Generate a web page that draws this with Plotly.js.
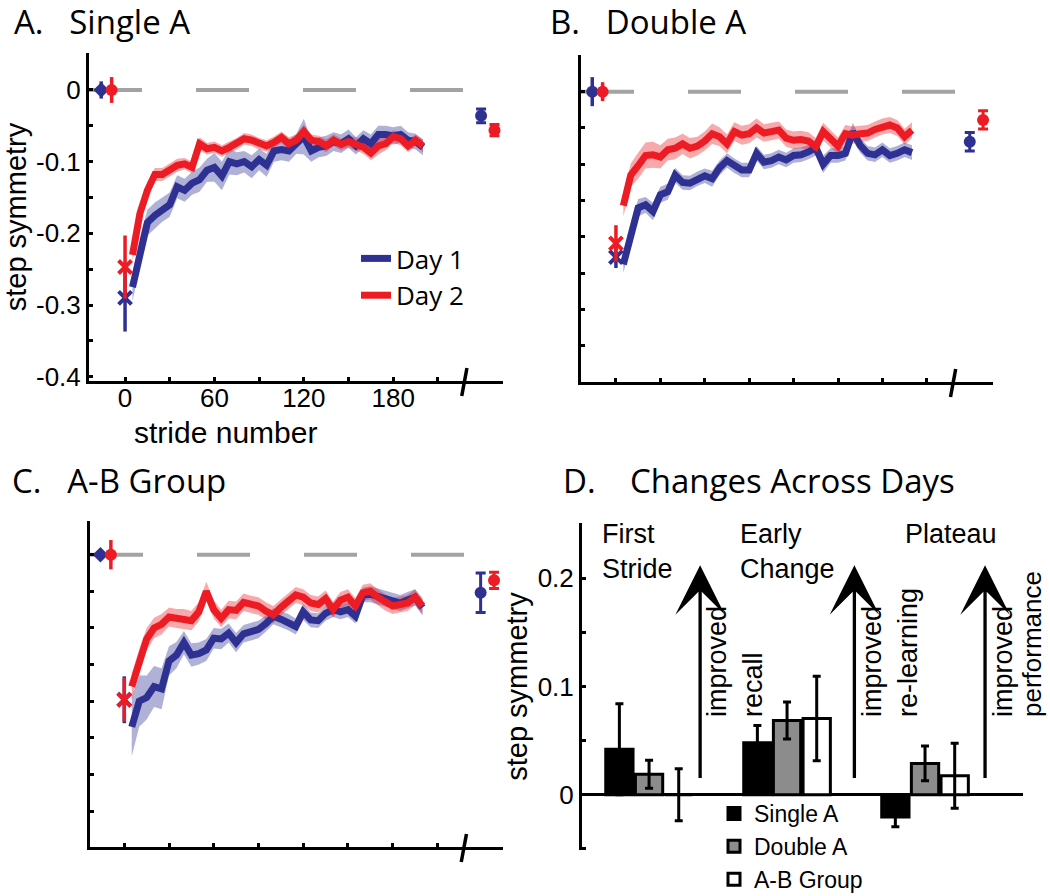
<!DOCTYPE html>
<html>
<head>
<meta charset="utf-8">
<script src="https://cdn.plot.ly/plotly-3.0.1.min.js"></script>
<style>
  body { margin: 0; background: #fff; }
  #grafico { width: 1050px; height: 896px; }
</style>
</head>
<body>
<div id="grafico"></div>
<script>
// Zancadas (bins de 5 zancadas)
const strides = [5,10,15,20,25,30,35,40,45,50,55,60,65,70,75,80,85,90,95,100,
  105,110,115,120,125,130,135,140,145,150,155,160,165,170,175,180,185,190,195,200];

// A. Single A
const singleDay1 = [-0.275,-0.225,-0.185,-0.175,-0.167,-0.16,-0.135,-0.14,-0.13,-0.125,
  -0.112,-0.108,-0.12,-0.1,-0.103,-0.1,-0.107,-0.097,-0.105,-0.085,
  -0.083,-0.085,-0.075,-0.065,-0.085,-0.08,-0.078,-0.072,-0.075,-0.068,
  -0.078,-0.068,-0.075,-0.062,-0.062,-0.064,-0.062,-0.07,-0.072,-0.08];
const singleDay1Se = [0.02,0.02,0.018,0.018,0.017,0.017,0.016,0.016,0.016,0.017,
  0.016,0.02,0.02,0.018,0.016,0.015,0.016,0.015,0.016,0.015,
  0.015,0.015,0.014,0.025,0.015,0.014,0.014,0.013,0.013,0.013,
  0.012,0.012,0.013,0.012,0.012,0.012,0.012,0.011,0.011,0.011];
const singleDay2 = [-0.23,-0.172,-0.14,-0.118,-0.118,-0.112,-0.105,-0.103,-0.108,-0.075,
  -0.082,-0.08,-0.085,-0.08,-0.075,-0.068,-0.07,-0.075,-0.078,-0.073,
  -0.066,-0.075,-0.07,-0.058,-0.07,-0.072,-0.078,-0.07,-0.076,-0.072,
  -0.075,-0.08,-0.088,-0.078,-0.075,-0.065,-0.068,-0.078,-0.07,-0.078];
const singleDay2Se = [0.01,0.01,0.01,0.009,0.009,0.009,0.009,0.008,0.008,0.009,
  0.008,0.008,0.008,0.008,0.008,0.008,0.008,0.008,0.008,0.008,
  0.008,0.009,0.008,0.01,0.008,0.008,0.009,0.008,0.008,0.008,
  0.009,0.009,0.01,0.012,0.009,0.009,0.009,0.009,0.008,0.009];

// B. Double A
const doubleDay1 = [-0.238,-0.198,-0.16,-0.156,-0.165,-0.142,-0.138,-0.115,-0.125,-0.126,
  -0.12,-0.116,-0.12,-0.105,-0.095,-0.102,-0.108,-0.108,-0.085,-0.097,
  -0.095,-0.09,-0.094,-0.088,-0.087,-0.083,-0.077,-0.1,-0.088,-0.088,
  -0.085,-0.055,-0.074,-0.085,-0.087,-0.08,-0.088,-0.085,-0.08,-0.084];
const doubleDay1Se = [0.012,0.012,0.012,0.011,0.012,0.011,0.011,0.01,0.01,0.01,
  0.01,0.01,0.011,0.01,0.01,0.01,0.01,0.01,0.01,0.01,
  0.01,0.01,0.01,0.01,0.01,0.01,0.011,0.012,0.01,0.01,
  0.01,0.012,0.01,0.01,0.01,0.01,0.01,0.01,0.01,0.01];
const doubleDay2 = [-0.157,-0.115,-0.102,-0.088,-0.087,-0.09,-0.08,-0.078,-0.072,-0.078,
  -0.075,-0.068,-0.058,-0.062,-0.072,-0.055,-0.06,-0.058,-0.05,-0.057,
  -0.055,-0.053,-0.064,-0.067,-0.066,-0.068,-0.076,-0.055,-0.065,-0.075,
  -0.058,-0.06,-0.058,-0.057,-0.052,-0.048,-0.046,-0.05,-0.062,-0.053];
const doubleDay2Se = [0.015,0.016,0.018,0.018,0.018,0.016,0.015,0.015,0.014,0.014,
  0.013,0.013,0.014,0.013,0.013,0.013,0.013,0.013,0.013,0.012,
  0.012,0.012,0.012,0.012,0.012,0.012,0.012,0.012,0.012,0.012,
  0.012,0.012,0.011,0.011,0.011,0.011,0.011,0.011,0.011,0.011];

// C. A-B Group
const abDay1 = [-0.235,-0.2,-0.195,-0.18,-0.183,-0.145,-0.137,-0.12,-0.137,-0.135,
  -0.13,-0.114,-0.115,-0.107,-0.12,-0.108,-0.105,-0.102,-0.094,-0.084,
  -0.088,-0.092,-0.098,-0.078,-0.089,-0.09,-0.08,-0.075,-0.078,-0.075,
  -0.084,-0.055,-0.054,-0.057,-0.06,-0.062,-0.066,-0.062,-0.058,-0.072];
const abDay1Se = [0.04,0.035,0.03,0.028,0.028,0.02,0.018,0.016,0.016,0.015,
  0.015,0.014,0.014,0.013,0.013,0.012,0.012,0.012,0.011,0.011,
  0.011,0.011,0.011,0.011,0.01,0.01,0.01,0.01,0.01,0.01,
  0.01,0.01,0.011,0.011,0.011,0.011,0.011,0.011,0.011,0.011];
const abDay2 = [-0.18,-0.145,-0.115,-0.1,-0.095,-0.085,-0.087,-0.088,-0.09,-0.078,
  -0.05,-0.075,-0.087,-0.075,-0.076,-0.065,-0.068,-0.07,-0.077,-0.082,
  -0.072,-0.064,-0.055,-0.058,-0.066,-0.068,-0.06,-0.075,-0.062,-0.058,
  -0.07,-0.052,-0.05,-0.058,-0.065,-0.07,-0.068,-0.066,-0.058,-0.07];
const abDay2Se = [0.018,0.016,0.015,0.014,0.014,0.013,0.013,0.014,0.013,0.013,
  0.013,0.012,0.012,0.012,0.012,0.012,0.012,0.012,0.012,0.012,
  0.011,0.011,0.011,0.011,0.011,0.011,0.011,0.011,0.011,0.011,
  0.011,0.011,0.011,0.011,0.011,0.011,0.011,0.011,0.011,0.011];

// puntos sueltos [Day 1, Day 2]: baseline, primera zancada, post
const preStride = [-16, -9];
const firstStride = [0, 0];
const postStride = [239, 248];
const singlePre = [0, 0], singlePreErr = [0.012, 0.018];
const singleFirst = [-0.29, -0.247], singleFirstErr = [0.047, 0.044];
const singlePost = [-0.036, -0.056], singlePostErr = [0.0096, 0.008];
const doublePre = [0, 0], doublePreErr = [0.02, 0.013];
const doubleFirst = [-0.228, -0.209], doubleFirstErr = [0.015, 0.025];
const doublePost = [-0.069, -0.039], doublePostErr = [0.0126, 0.0126];
const abPre = [0, 0], abPreErr = [0.006, 0.02];
const abFirst = [-0.198, -0.198], abFirstErr = [0.032, 0.03];
const abPost = [-0.052, -0.035], abPostErr = [0.027, 0.011];

// D. Changes Across Days
const phases = ["First Stride", "Early Change", "Plateau"];
const changeSingle = [0.042, 0.048, -0.0206], changeSingleErr = [0.042, 0.016, 0.009];
const changeDouble = [0.019, 0.0686, 0.029], changeDoubleErr = [0.013, 0.017, 0.016];
const changeAB = [0.0, 0.0705, 0.0175], changeABErr = [0.024, 0.039, 0.030];

const W = 1050, H = 896;
const fx = (p) => p / W;
const fy = (p) => 1 - p / H;

const azul = "rgb(46,49,146)", rojo = "rgb(237,28,36)";
const bandaAzul = "rgba(46,49,146,0.38)", bandaRoja = "rgba(237,28,36,0.38)";
const helv = "Liberation Sans, Arial, sans-serif";
const myriad = "Open Sans, sans-serif";

const trazasPanel = (n, d1, s1, d2, s2, pre, preErr, first, firstErr, post, postErr, simboloPre) => {
  const xa = n === 1 ? "x" : "x" + n;
  const ya = n === 1 ? "y" : "y" + n;
  const trazas = [];
  // bandas de error estandar
  [[d1, s1, bandaAzul], [d2, s2, bandaRoja]].forEach(([m, se, col]) => {
    trazas.push({ x: strides, y: m.map((v, i) => v + se[i]), xaxis: xa, yaxis: ya,
      type: "scatter", mode: "lines", line: { width: 0, color: col }, showlegend: false, hoverinfo: "skip" });
    trazas.push({ x: strides, y: m.map((v, i) => v - se[i]), xaxis: xa, yaxis: ya,
      type: "scatter", mode: "lines", line: { width: 0, color: col }, fill: "tonexty",
      fillcolor: col, showlegend: false, hoverinfo: "skip" });
  });
  // lineas medias
  [[d1, azul, "Day 1"], [d2, rojo, "Day 2"]].forEach(([m, col, nombre]) => {
    trazas.push({ x: strides, y: m, xaxis: xa, yaxis: ya, type: "scatter", mode: "lines",
      name: nombre, line: { color: col, width: 7 }, showlegend: n === 1, legend: "legend" });
  });
  // puntos con barras de error
  [azul, rojo].forEach((col, k) => {
    trazas.push({ x: [preStride[k]], y: [pre[k]], xaxis: xa, yaxis: ya, type: "scatter", mode: "markers",
      marker: { symbol: k === 0 ? simboloPre : "circle", size: 12, color: col },
      error_y: { type: "data", array: [preErr[k]], thickness: 3.5, width: 0, color: col }, showlegend: false });
    trazas.push({ x: [firstStride[k]], y: [first[k]], xaxis: xa, yaxis: ya, type: "scatter", mode: "markers",
      marker: { symbol: "x-thin", size: 13, color: col, line: { width: 4, color: col } },
      error_y: { type: "data", array: [firstErr[k]], thickness: 3.5, width: 0, color: col }, showlegend: false });
    trazas.push({ x: [postStride[k]], y: [post[k]], xaxis: xa, yaxis: ya, type: "scatter", mode: "markers",
      marker: { symbol: "circle", size: 12, color: col },
      error_y: { type: "data", array: [postErr[k]], thickness: 3, width: 5, color: col }, showlegend: false });
  });
  return trazas;
};

let datos = [];
datos = datos.concat(trazasPanel(1, singleDay1, singleDay1Se, singleDay2, singleDay2Se,
  singlePre, singlePreErr, singleFirst, singleFirstErr, singlePost, singlePostErr, "diamond"));
datos = datos.concat(trazasPanel(2, doubleDay1, doubleDay1Se, doubleDay2, doubleDay2Se,
  doublePre, doublePreErr, doubleFirst, doubleFirstErr, doublePost, doublePostErr, "circle"));
datos = datos.concat(trazasPanel(3, abDay1, abDay1Se, abDay2, abDay2Se,
  abPre, abPreErr, abFirst, abFirstErr, abPost, abPostErr, "diamond"));

// barras del panel D
[[changeSingle, changeSingleErr, "black", "Single A"],
 [changeDouble, changeDoubleErr, "rgb(140,140,140)", "Double A"],
 [changeAB, changeABErr, "white", "A-B Group"]].forEach(([v, e, col, nombre]) => {
  datos.push({ x: phases, y: v, type: "bar", name: nombre, xaxis: "x4", yaxis: "y4",
    marker: { color: col, line: { color: "black", width: 3 } },
    error_y: { type: "data", array: e, color: "black", thickness: 3, width: 4 },
    legend: "legend2" });
});

const ejeX = (dom, rango, etiquetas) => ({
  domain: dom, range: rango, showline: true, linewidth: 3, linecolor: "black",
  ticks: "inside", ticklen: 4, tickwidth: 3, tickcolor: "black",
  tickvals: [0, 30, 60, 90, 120, 150, 180, 210],
  ticktext: ["0", "", "60", "", "120", "", "180", ""],
  showticklabels: etiquetas, tickfont: { family: helv, size: 26, color: "black" },
  showgrid: false, zeroline: false
});
const ejeY = (dom, rango, etiquetas) => ({
  domain: dom, range: rango, showline: true, linewidth: 3, linecolor: "black",
  ticks: "inside", ticklen: 4, tickwidth: 3, tickcolor: "black",
  tickvals: [-0.4, -0.35, -0.3, -0.25, -0.2, -0.15, -0.1, -0.05, 0],
  ticktext: ["-0.4", "", "-0.3", "", "-0.2", "", "-0.1", "", "0"],
  showticklabels: etiquetas, tickfont: { family: helv, size: 26, color: "black" },
  showgrid: false, zeroline: false
});

const xa1 = ejeX([fx(89), fx(503)], [-24.2, 253.7], true);
xa1.ticklabelstandoff = -8;
const ya1 = ejeY([fy(381), fy(53)], [-0.406, 0.0516], true);
ya1.title = { text: "step symmetry", font: { family: helv, size: 29, color: "black" }, standoff: 4 };
const xa2 = ejeX([fx(581), fx(993)], [-23.6, 254.7], false);
const ya2 = ejeY([fy(382), fy(55)], [-0.4, 0.0505], false);
const xa3 = ejeX([fx(90), fx(503)], [-23, 254], false);
const ya3 = ejeY([fy(847), fy(521)], [-0.399, 0.046], false);
xa2.anchor = "y2"; ya2.anchor = "x2";
xa3.anchor = "y3"; ya3.anchor = "x3";

// linea de cero discontinua y marcas de corte
const shapes = [];
[["x", "y", [-24.2, 262]], ["x2", "y2", [-23.6, 262]], ["x3", "y3", [-23, 262]]].forEach(([xr, yr, r]) => {
  shapes.push({ type: "line", xref: xr, yref: yr, x0: r[0], x1: r[1], y0: 0, y1: 0, layer: "below",
    line: { color: "rgb(163,163,163)", width: 4, dash: "53px,54px" } });
});
[["x", 381], ["x2", 382], ["x3", 847]].forEach(([xr, yb]) => {
  shapes.push({ type: "line", xref: xr, yref: "paper", x0: 226, x1: 229.5, y0: fy(yb + 15), y1: fy(yb - 13),
    line: { color: "black", width: 3.5 } });
});

const txt = (texto, x, y, opciones) => Object.assign({
  text: texto, xref: "paper", yref: "paper", x: fx(x), y: fy(y), showarrow: false,
  xanchor: "left", yanchor: "middle", font: { family: helv, size: 27, color: "black" }
}, opciones || {});

const titulo = { family: myriad, size: 33, color: "black" };
const vertical = { textangle: -90, xanchor: "center", yanchor: "middle" };
const annotations = [
  txt("A.\u00a0\u00a0\u00a0Single A", 12, 22, { font: titulo }),
  txt("B.\u00a0\u00a0\u00a0Double A", 548, 22, { font: titulo }),
  txt("C.\u00a0\u00a0\u00a0A-B Group", 10, 480, { font: titulo }),
  txt("D.\u00a0\u00a0\u00a0\u00a0Changes Across Days", 561, 480, { font: titulo }),
  txt("stride number", 225, 432, { xanchor: "center", font: { family: helv, size: 30, color: "black" } }),
  txt("First<br>Stride", 600, 517, { yanchor: "top", align: "left" }),
  txt("Early<br>Change", 738, 517, { yanchor: "top", align: "left" }),
  txt("Plateau", 903, 517, { yanchor: "top", align: "left" }),
  txt("improved", 717, 662, vertical),
  txt("recall", 753, 685, vertical),
  txt("improved", 872, 662, vertical),
  txt("re-learning", 908, 653, vertical),
  txt("improved", 1003, 662, vertical),
  txt("performance", 1049, 644, Object.assign({}, vertical, { xanchor: "right", font: { family: helv, size: 26, color: "black" } }))
];
// flechas verticales del panel D
[0.37, 1.488, 2.435].forEach((xf) => {
  annotations.push({ xref: "x4", yref: "y4", axref: "x4", ayref: "y4", x: xf, y: 0.212, ax: xf, ay: 0.014,
    text: "", showarrow: true, arrowhead: 3, arrowsize: 2.5, arrowwidth: 3.3, arrowcolor: "black" });
});

const diseño = {
  width: W, height: H, margin: { l: 0, r: 0, t: 0, b: 0, autoexpand: false },
  paper_bgcolor: "white", plot_bgcolor: "rgba(0,0,0,0)",
  showlegend: true, barmode: "group", bargap: 0.355, bargroupgap: 0.08,
  xaxis: xa1, yaxis: ya1, xaxis2: xa2, yaxis2: ya2, xaxis3: xa3, yaxis3: ya3,
  xaxis4: { domain: [fx(582), fx(1023)], range: [-0.486, 2.71], visible: false, anchor: "y4" },
  yaxis4: {
    domain: [fy(850), fy(523)], range: [-0.051, 0.251], anchor: "x4",
    showline: true, linewidth: 3, linecolor: "black",
    ticks: "inside", ticklen: 4, tickwidth: 3, tickcolor: "black",
    tickvals: [-0.05, 0, 0.05, 0.1, 0.15, 0.2], ticktext: ["", "0", "", "0.1", "", "0.2"],
    tickfont: { family: helv, size: 26, color: "black" },
    showgrid: false, zeroline: true, zerolinecolor: "black", zerolinewidth: 3,
    title: { text: "step symmetry", font: { family: helv, size: 29, color: "black" }, standoff: 2 }
  },
  legend: { x: fx(356), y: fy(235), xanchor: "left", yanchor: "top", bgcolor: "rgba(0,0,0,0)",
    traceorder: "normal", font: { family: myriad, size: 26, color: "black" } },
  legend2: { x: fx(714), y: fy(792), xanchor: "left", yanchor: "top", bgcolor: "rgba(0,0,0,0)",
    traceorder: "normal", font: { family: helv, size: 23, color: "black" } },
  shapes: shapes,
  annotations: annotations
};

Plotly.newPlot("grafico", datos, diseño, { displayModeBar: false, staticPlot: true });
</script>
</body>
</html>
